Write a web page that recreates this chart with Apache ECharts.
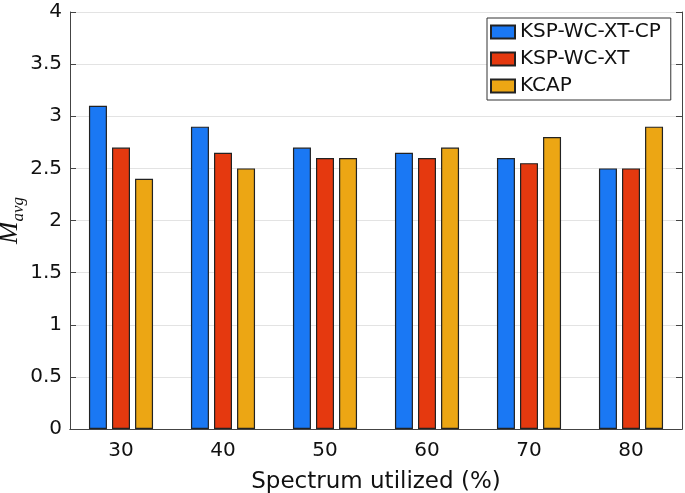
<!DOCTYPE html>
<html>
<head>
<meta charset="utf-8">
<script src="https://cdn.jsdelivr.net/npm/echarts@6/dist/echarts.min.js"></script>
<style>html,body{margin:0;padding:0;background:#fff;}#c{width:685px;height:493px;}</style>
</head>
<body>
<div id="c"></div>
<script>
const categories = ['30', '40', '50', '60', '70', '80'];
const seriesNames = ['KSP-WC-XT-CP', 'KSP-WC-XT', 'KCAP'];
const kspWcXtCp = [3.1, 2.9, 2.7, 2.65, 2.6, 2.5];
const kspWcXt = [2.7, 2.65, 2.6, 2.6, 2.55, 2.5];
const kcap = [2.4, 2.5, 2.6, 2.7, 2.8, 2.9];
const yTicks = [0, 0.5, 1, 1.5, 2, 2.5, 3, 3.5, 4];

const colors = ['#1a78f4', '#e5390f', '#eca614'];
const font = 'DejaVu Sans';
const axisColor = '#444';

const chart = echarts.init(document.getElementById('c'));
const mkSeries = (name, data, i) => ({
  name: name, type: 'bar', data: data,
  barWidth: 18, barGap: '28%',
  itemStyle: { color: colors[i], borderColor: '#222', borderWidth: 1.2 }
});
chart.setOption({
  animation: false,
  grid: { left: 70, right: 3, top: 12, bottom: 64, containLabel: false, outerBoundsMode: 'none' },
  legend: {
    orient: 'vertical', left: 487, top: 18,
    data: seriesNames,
    itemWidth: 24, itemHeight: 13, itemGap: 7,
    padding: [4, 10, 4, 3],
    backgroundColor: '#fff', borderColor: '#333', borderWidth: 1,
    textStyle: { fontFamily: font, fontSize: 20, color: '#111', lineHeight: 20 },
    icon: 'rect'
  },
  xAxis: [{
    type: 'category', data: categories, position: 'bottom', z: 5,
    name: 'Spectrum utilized (%)', nameLocation: 'middle', nameGap: 42, nameMoveOverlap: false,
    nameTextStyle: { fontFamily: font, fontSize: 23, color: '#111' },
    axisLine: { lineStyle: { color: axisColor, width: 1 } },
    axisTick: { inside: true, alignWithLabel: true, length: 6, lineStyle: { color: axisColor } },
    axisLabel: { fontFamily: font, fontSize: 20, color: '#111', margin: 12 },
    splitLine: { show: false }
  }, {
    type: 'category', data: categories, position: 'top', z: 5,
    axisLine: { lineStyle: { color: axisColor, width: 1 } },
    axisTick: { inside: true, alignWithLabel: true, length: 6, lineStyle: { color: axisColor } },
    axisLabel: { show: false },
    splitLine: { show: false }
  }],
  yAxis: [{
    type: 'value', min: 0, max: 4, interval: 0.5, position: 'left',
    name: '{m|M}{s|avg}', nameLocation: 'middle', nameGap: 47, nameRotate: 90, nameMoveOverlap: false,
    nameTextStyle: {
      rich: {
        m: { fontFamily: 'Liberation Serif', fontStyle: 'italic', fontSize: 27, color: '#111', lineHeight: 30, verticalAlign: 'bottom' },
        s: { fontFamily: 'Liberation Serif', fontStyle: 'italic', fontSize: 17, color: '#111', verticalAlign: 'bottom', lineHeight: 30, padding: [0, 0, -4, 0] }
      }
    },
    axisLine: { show: true, lineStyle: { color: axisColor, width: 1 } },
    axisTick: { show: true, inside: true, length: 6, lineStyle: { color: axisColor } },
    axisLabel: { fontFamily: font, fontSize: 20, color: '#111', margin: 8,
      formatter: v => yTicks.includes(v) ? String(v) : '' },
    splitLine: { show: true, lineStyle: { color: '#e3e3e3', width: 1 } }
  }, {
    type: 'value', min: 0, max: 4, interval: 0.5, position: 'right',
    axisLine: { show: true, lineStyle: { color: axisColor, width: 1 } },
    axisTick: { show: true, inside: true, length: 6, lineStyle: { color: axisColor } },
    axisLabel: { show: false },
    splitLine: { show: false }
  }],
  series: [
    mkSeries(seriesNames[0], kspWcXtCp, 0),
    mkSeries(seriesNames[1], kspWcXt, 1),
    mkSeries(seriesNames[2], kcap, 2)
  ]
});
</script>
</body>
</html>
